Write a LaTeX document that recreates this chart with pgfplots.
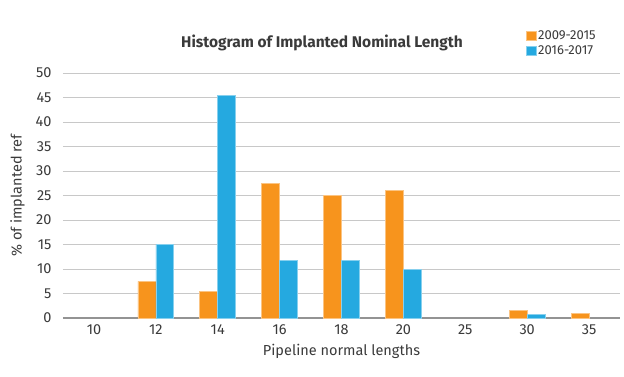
\documentclass[border=0pt]{standalone}
\usepackage{fontspec}
\setmainfont{Fira Sans}
\usepackage{pgfplots}
\pgfplotsset{compat=1.18}
\definecolor{cOr}{HTML}{F7941D}
\definecolor{cBl}{HTML}{25A9E0}
\definecolor{gridc}{HTML}{C8C8C8}
\definecolor{txt}{HTML}{3A3A3A}
\begin{document}
\begin{tikzpicture}[x=1pt,y=1pt]
\useasboundingbox (0,0) rectangle (624,376);
\begin{axis}[
  at={(63pt,58pt)}, anchor=south west,
  scale only axis, width=557pt, height=245pt,
  xmin=-0.5, xmax=8.5, ymin=0, ymax=50,
  xtick={0,...,8}, xticklabels={10,12,14,16,18,20,25,30,35},
  ytick={5,10,...,50},
  extra y ticks={0},
  extra y tick style={grid style={draw=gray!85, line width=1.4pt}},
  ymajorgrids, grid style={draw=gridc, line width=0.9pt},
  axis line style={draw=none},
  major tick length=0pt,
  tick label style={font=\fontsize{14.5}{16}\selectfont, text=txt},
  xticklabel style={yshift=-3pt},
  yticklabel style={xshift=-8pt},
  /pgf/number format/assume math mode=true,
  xlabel={Pipeline normal lengths},
  ylabel={\% of implanted ref},
  label style={font=\fontsize{14.5}{16}\selectfont, text=txt},
  xlabel style={yshift=-3pt},
  ylabel style={yshift=4pt},
  title={Histogram of Implanted Nominal Length},
  title style={at={(0.465,1.10)}, anchor=center, font=\fontsize{15.5}{17}\selectfont\bfseries, text=txt},
  legend style={at={(0.83,1.06)}, anchor=south west, draw=none, fill=none,
     font=\fontsize{13}{14}\selectfont, text=txt, row sep=1pt, inner sep=0pt,
     legend cell align=left},
  legend image code/.code={\fill[#1] (0pt,-4.5pt) rectangle (10pt,4.5pt);},
]
\addplot[ybar, bar width=0.29, bar shift=-0.145, fill=cOr, draw=cOr!55!white, line width=0.6pt]
  coordinates {(1,7.5) (2,5.5) (3,27.5) (4,25) (5,26) (7,1.5) (8,0.9)};
\addplot[ybar, bar width=0.29, bar shift=0.145, fill=cBl, draw=cBl!55!white, line width=0.6pt]
  coordinates {(1,15) (2,45.5) (3,11.7) (4,11.7) (5,10) (7,0.8)};
\legend{2009-2015,2016-2017}
\end{axis}
\end{tikzpicture}
\end{document}
